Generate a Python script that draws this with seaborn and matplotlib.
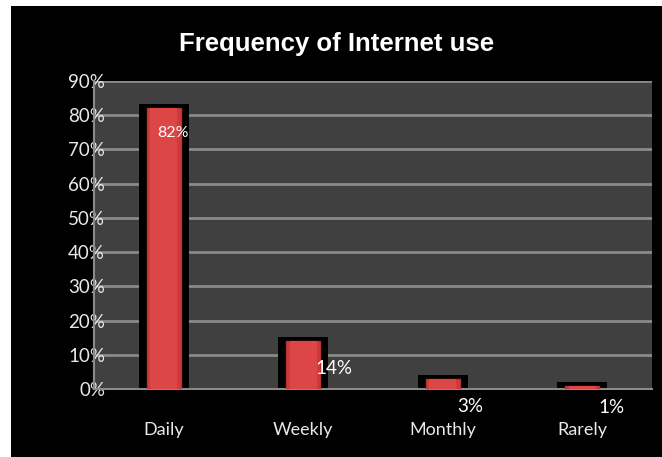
import matplotlib
matplotlib.use("Agg")
import matplotlib.pyplot as plt
import seaborn as sns
import pandas as pd

categories = ["Daily", "Weekly", "Monthly", "Rarely"]
values = [82, 14, 3, 1]
labels = ["82%", "14%", "3%", "1%"]
yticks = [0, 10, 20, 30, 40, 50, 60, 70, 80, 90]

# label offsets (points) relative to top of each bar
label_dx = [7, 22, 20, 21]
label_dy = [-18, -20, -20, -16]

df = pd.DataFrame({"cat": categories, "val": values})

sns.set_theme(style="dark")
plt.rcParams['font.family'] = ['Lato', 'DejaVu Sans']

fig = plt.figure(figsize=(6.62, 4.57), dpi=100, facecolor="white")
# black panel background
fig.patches.append(plt.Rectangle((11/662, 0), 1, 1 - 6/457, transform=fig.transFigure,
                                 facecolor="black", edgecolor="none", zorder=-10))
ax = fig.add_axes([94/662, 1 - 389/457, (652 - 94)/662, (389 - 81)/457])
ax.set_facecolor("#404040")

# black shadow bars
sns.barplot(data=df, x="cat", y="val", ax=ax, color="black", width=0.30,
            saturation=1, edgecolor="black", linewidth=5.76, zorder=2)
# red bars
sns.barplot(data=df, x="cat", y="val", ax=ax, color="#cf3a3a", width=0.244,
            saturation=1, edgecolor="#b83232", linewidth=1.0, zorder=3)
# highlight bars
sns.barplot(data=df, x="cat", y="val", ax=ax, color="#dc4646", width=0.19,
            saturation=1, linewidth=0, zorder=4)

ax.set_ylim(0, 90)
ax.set_xlim(-0.5, 3.5)
ax.set_yticks(yticks)
ax.set_yticklabels([f"{t}%" for t in yticks])
ax.yaxis.grid(True, color="#8a8a8a", linewidth=2)
ax.xaxis.grid(False)
ax.set_axisbelow(True)
for s in ["top", "right"]:
    ax.spines[s].set_visible(False)
ax.spines["left"].set_color("#8a8a8a")
ax.spines["left"].set_linewidth(1.5)
ax.spines["bottom"].set_color("#8a8a8a")
ax.spines["bottom"].set_linewidth(1.5)
ax.set_xlabel("")
ax.set_ylabel("")
ax.tick_params(axis="y", colors="#e8e8e8", labelsize=13.5, length=0, pad=-8)
ax.tick_params(axis="x", colors="#e8e8e8", labelsize=13, length=0, pad=24)
for lab in ax.get_yticklabels():
    lab.set_color("#e8e8e8")
for lab in ax.get_xticklabels():
    lab.set_color("#e8e8e8")

for i, (v, t) in enumerate(zip(values, labels)):
    ax.annotate(t, xy=(i, v), xytext=(label_dx[i], label_dy[i]), textcoords="offset points",
                ha="center", va="center", color="white", fontsize=11.5 if i == 0 else 13.5,
                zorder=6, annotation_clip=False)

fig.text((11 + 662) / 2 / 662, 1 - 44 / 457, "Frequency of Internet use", ha="center", va="center",
         color="white", fontsize=18.5, fontweight="bold", family=["Liberation Sans", "DejaVu Sans"])

fig.savefig("out.png", dpi=100, facecolor="white")
